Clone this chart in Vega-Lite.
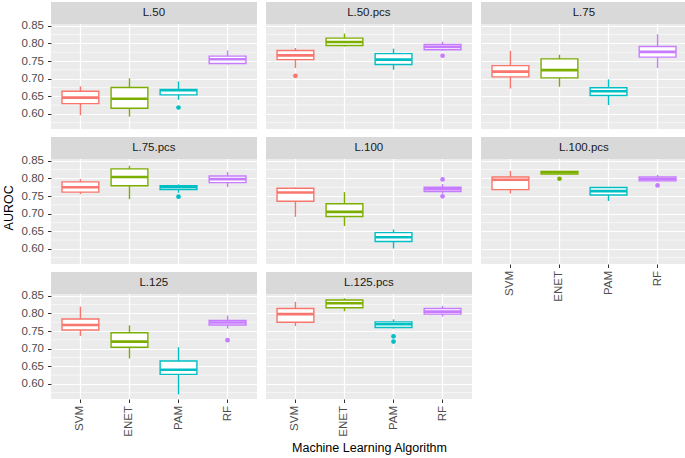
{
  "$schema": "https://vega.github.io/schema/vega-lite/v6.json",
  "background": "white",
  "padding": {"left": 2, "top": 2, "right": 1, "bottom": 2},
  "title": {"text": "AUROC", "orient": "left", "anchor": "middle", "fontSize": 12.5, "fontWeight": "normal", "color": "black", "offset": 6, "dx": 20},
  "data": {"values": [
    {"panel": "L.50", "algo": "SVM", "lower": 0.596, "q1": 0.629, "median": 0.646, "q3": 0.664, "upper": 0.678},
    {"panel": "L.50", "algo": "ENET", "lower": 0.592, "q1": 0.616, "median": 0.643, "q3": 0.675, "upper": 0.701},
    {"panel": "L.50", "algo": "PAM", "lower": 0.640, "q1": 0.654, "median": 0.667, "q3": 0.669, "upper": 0.692},
    {"panel": "L.50", "algo": "PAM", "outlier": 0.618},
    {"panel": "L.50", "algo": "RF", "lower": 0.740, "q1": 0.743, "median": 0.755, "q3": 0.764, "upper": 0.780},
    {"panel": "L.50.pcs", "algo": "SVM", "lower": 0.730, "q1": 0.754, "median": 0.766, "q3": 0.780, "upper": 0.787},
    {"panel": "L.50.pcs", "algo": "SVM", "outlier": 0.708},
    {"panel": "L.50.pcs", "algo": "ENET", "lower": 0.791, "q1": 0.794, "median": 0.804, "q3": 0.815, "upper": 0.828},
    {"panel": "L.50.pcs", "algo": "PAM", "lower": 0.725, "q1": 0.740, "median": 0.754, "q3": 0.771, "upper": 0.785},
    {"panel": "L.50.pcs", "algo": "RF", "lower": 0.779, "q1": 0.782, "median": 0.790, "q3": 0.797, "upper": 0.805},
    {"panel": "L.50.pcs", "algo": "RF", "outlier": 0.765},
    {"panel": "L.75", "algo": "SVM", "lower": 0.672, "q1": 0.705, "median": 0.720, "q3": 0.737, "upper": 0.779},
    {"panel": "L.75", "algo": "ENET", "lower": 0.677, "q1": 0.702, "median": 0.724, "q3": 0.756, "upper": 0.768},
    {"panel": "L.75", "algo": "PAM", "lower": 0.625, "q1": 0.652, "median": 0.664, "q3": 0.674, "upper": 0.698},
    {"panel": "L.75", "algo": "RF", "lower": 0.730, "q1": 0.761, "median": 0.776, "q3": 0.791, "upper": 0.826},
    {"panel": "L.75.pcs", "algo": "SVM", "lower": 0.755, "q1": 0.761, "median": 0.775, "q3": 0.790, "upper": 0.798},
    {"panel": "L.75.pcs", "algo": "ENET", "lower": 0.741, "q1": 0.779, "median": 0.804, "q3": 0.827, "upper": 0.836},
    {"panel": "L.75.pcs", "algo": "PAM", "lower": 0.759, "q1": 0.768, "median": 0.775, "q3": 0.779, "upper": 0.783},
    {"panel": "L.75.pcs", "algo": "PAM", "outlier": 0.748},
    {"panel": "L.75.pcs", "algo": "RF", "lower": 0.775, "q1": 0.788, "median": 0.798, "q3": 0.807, "upper": 0.818},
    {"panel": "L.100", "algo": "SVM", "lower": 0.691, "q1": 0.735, "median": 0.760, "q3": 0.772, "upper": 0.774},
    {"panel": "L.100", "algo": "ENET", "lower": 0.665, "q1": 0.692, "median": 0.705, "q3": 0.728, "upper": 0.761},
    {"panel": "L.100", "algo": "PAM", "lower": 0.601, "q1": 0.621, "median": 0.633, "q3": 0.646, "upper": 0.655},
    {"panel": "L.100", "algo": "RF", "lower": 0.757, "q1": 0.763, "median": 0.769, "q3": 0.775, "upper": 0.784},
    {"panel": "L.100", "algo": "RF", "outlier": 0.797},
    {"panel": "L.100", "algo": "RF", "outlier": 0.749},
    {"panel": "L.100.pcs", "algo": "SVM", "lower": 0.757, "q1": 0.768, "median": 0.796, "q3": 0.804, "upper": 0.821},
    {"panel": "L.100.pcs", "algo": "ENET", "lower": 0.812, "q1": 0.812, "median": 0.817, "q3": 0.820, "upper": 0.821},
    {"panel": "L.100.pcs", "algo": "ENET", "outlier": 0.799},
    {"panel": "L.100.pcs", "algo": "PAM", "lower": 0.736, "q1": 0.753, "median": 0.764, "q3": 0.774, "upper": 0.775},
    {"panel": "L.100.pcs", "algo": "RF", "lower": 0.791, "q1": 0.793, "median": 0.798, "q3": 0.804, "upper": 0.810},
    {"panel": "L.100.pcs", "algo": "RF", "outlier": 0.780},
    {"panel": "L.125", "algo": "SVM", "lower": 0.736, "q1": 0.753, "median": 0.767, "q3": 0.784, "upper": 0.819},
    {"panel": "L.125", "algo": "ENET", "lower": 0.672, "q1": 0.704, "median": 0.720, "q3": 0.745, "upper": 0.766},
    {"panel": "L.125", "algo": "PAM", "lower": 0.570, "q1": 0.627, "median": 0.640, "q3": 0.665, "upper": 0.704},
    {"panel": "L.125", "algo": "RF", "lower": 0.757, "q1": 0.767, "median": 0.774, "q3": 0.780, "upper": 0.794},
    {"panel": "L.125", "algo": "RF", "outlier": 0.724},
    {"panel": "L.125.pcs", "algo": "SVM", "lower": 0.764, "q1": 0.775, "median": 0.798, "q3": 0.814, "upper": 0.833},
    {"panel": "L.125.pcs", "algo": "ENET", "lower": 0.806, "q1": 0.816, "median": 0.829, "q3": 0.838, "upper": 0.843},
    {"panel": "L.125.pcs", "algo": "PAM", "lower": 0.757, "q1": 0.760, "median": 0.769, "q3": 0.776, "upper": 0.783},
    {"panel": "L.125.pcs", "algo": "PAM", "outlier": 0.735},
    {"panel": "L.125.pcs", "algo": "PAM", "outlier": 0.720},
    {"panel": "L.125.pcs", "algo": "RF", "lower": 0.791, "q1": 0.798, "median": 0.805, "q3": 0.814, "upper": 0.821}
  ]},
  "spacing": 7,
  "hconcat": [
    {"spacing": 8, "vconcat": [
      {"width": 206, "height": 127, "transform": [{"filter": "datum.panel == 'L.50'"}],
       "encoding": {"x": {"field": "algo", "type": "nominal", "scale": {"domain": ["SVM", "ENET", "PAM", "RF"], "paddingInner": 0.25, "paddingOuter": 0.225}, "axis": {"title": null, "labels": false, "ticks": false}}},
       "layer": [
        {"transform": [{"aggregate": [{"op": "count", "as": "n"}], "groupby": ["panel"]}], "layer": [
          {"mark": {"type": "rule", "color": "white", "strokeWidth": 0.6}, "encoding": {"x": null, "y": {"datum": 0.575, "type": "quantitative"}}},
          {"mark": {"type": "rule", "color": "white", "strokeWidth": 0.6}, "encoding": {"x": null, "y": {"datum": 0.625, "type": "quantitative"}}},
          {"mark": {"type": "rule", "color": "white", "strokeWidth": 0.6}, "encoding": {"x": null, "y": {"datum": 0.675, "type": "quantitative"}}},
          {"mark": {"type": "rule", "color": "white", "strokeWidth": 0.6}, "encoding": {"x": null, "y": {"datum": 0.725, "type": "quantitative"}}},
          {"mark": {"type": "rule", "color": "white", "strokeWidth": 0.6}, "encoding": {"x": null, "y": {"datum": 0.775, "type": "quantitative"}}},
          {"mark": {"type": "rule", "color": "white", "strokeWidth": 0.6}, "encoding": {"x": null, "y": {"datum": 0.825, "type": "quantitative"}}}
        ]},
        {"transform": [{"filter": "isValid(datum.median)"}], "mark": {"type": "rule", "strokeWidth": 1.4},
         "encoding": {"y": {"field": "lower", "type": "quantitative", "scale": {"domain": [0.557, 0.9175], "nice": false, "zero": false},
           "axis": {"title": null, "values": [0.6, 0.65, 0.7, 0.75, 0.8, 0.85], "format": ".2f"}},
           "y2": {"field": "upper"},
           "color": {"field": "algo", "type": "nominal", "scale": {"domain": ["SVM", "ENET", "PAM", "RF"], "range": ["#F8766D", "#7CAE00", "#00BFC4", "#C77CFF"]}, "legend": null}}},
        {"transform": [{"filter": "isValid(datum.median)"}], "mark": {"type": "bar", "fill": "white", "strokeWidth": 1.4},
         "encoding": {"y": {"field": "q1", "type": "quantitative"}, "y2": {"field": "q3"}, "stroke": {"field": "algo", "type": "nominal", "scale": {"domain": ["SVM", "ENET", "PAM", "RF"], "range": ["#F8766D", "#7CAE00", "#00BFC4", "#C77CFF"]}, "legend": null}}},
        {"transform": [{"filter": "isValid(datum.median)"}], "mark": {"type": "tick", "size": 36.8, "thickness": 2.6, "opacity": 1},
         "encoding": {"y": {"field": "median", "type": "quantitative"}, "color": {"field": "algo", "type": "nominal", "legend": null}}},
        {"transform": [{"filter": "isValid(datum.outlier)"}], "mark": {"type": "point", "filled": true, "size": 22, "opacity": 1},
         "encoding": {"y": {"field": "outlier", "type": "quantitative"}, "color": {"field": "algo", "type": "nominal", "legend": null}}},
        {"transform": [{"aggregate": [{"op": "count", "as": "n"}], "groupby": ["panel"]}], "mark": {"type": "rect", "color": "#D9D9D9"},
         "encoding": {"x": null, "y": {"datum": 0.855, "type": "quantitative"}, "y2": {"datum": 0.9175}}},
        {"transform": [{"aggregate": [{"op": "count", "as": "n"}], "groupby": ["panel"]}], "mark": {"type": "text", "fontSize": 11.5, "fontWeight": "normal", "color": "#1A1A1A", "dx": 6, "align": "center", "baseline": "middle"},
         "encoding": {"x": {"datum": "ENET", "bandPosition": 1}, "y": {"datum": 0.8862, "type": "quantitative"}, "text": {"field": "panel", "type": "nominal"}}}
       ]},
      {"width": 206, "height": 127, "transform": [{"filter": "datum.panel == 'L.75.pcs'"}],
       "encoding": {"x": {"field": "algo", "type": "nominal", "scale": {"domain": ["SVM", "ENET", "PAM", "RF"], "paddingInner": 0.25, "paddingOuter": 0.225}, "axis": {"title": null, "labels": false, "ticks": false}}},
       "layer": [
        {"transform": [{"aggregate": [{"op": "count", "as": "n"}], "groupby": ["panel"]}], "layer": [
          {"mark": {"type": "rule", "color": "white", "strokeWidth": 0.6}, "encoding": {"x": null, "y": {"datum": 0.575, "type": "quantitative"}}},
          {"mark": {"type": "rule", "color": "white", "strokeWidth": 0.6}, "encoding": {"x": null, "y": {"datum": 0.625, "type": "quantitative"}}},
          {"mark": {"type": "rule", "color": "white", "strokeWidth": 0.6}, "encoding": {"x": null, "y": {"datum": 0.675, "type": "quantitative"}}},
          {"mark": {"type": "rule", "color": "white", "strokeWidth": 0.6}, "encoding": {"x": null, "y": {"datum": 0.725, "type": "quantitative"}}},
          {"mark": {"type": "rule", "color": "white", "strokeWidth": 0.6}, "encoding": {"x": null, "y": {"datum": 0.775, "type": "quantitative"}}},
          {"mark": {"type": "rule", "color": "white", "strokeWidth": 0.6}, "encoding": {"x": null, "y": {"datum": 0.825, "type": "quantitative"}}}
        ]},
        {"transform": [{"filter": "isValid(datum.median)"}], "mark": {"type": "rule", "strokeWidth": 1.4},
         "encoding": {"y": {"field": "lower", "type": "quantitative", "scale": {"domain": [0.557, 0.9175], "nice": false, "zero": false},
           "axis": {"title": null, "values": [0.6, 0.65, 0.7, 0.75, 0.8, 0.85], "format": ".2f"}},
           "y2": {"field": "upper"},
           "color": {"field": "algo", "type": "nominal", "scale": {"domain": ["SVM", "ENET", "PAM", "RF"], "range": ["#F8766D", "#7CAE00", "#00BFC4", "#C77CFF"]}, "legend": null}}},
        {"transform": [{"filter": "isValid(datum.median)"}], "mark": {"type": "bar", "fill": "white", "strokeWidth": 1.4},
         "encoding": {"y": {"field": "q1", "type": "quantitative"}, "y2": {"field": "q3"}, "stroke": {"field": "algo", "type": "nominal", "scale": {"domain": ["SVM", "ENET", "PAM", "RF"], "range": ["#F8766D", "#7CAE00", "#00BFC4", "#C77CFF"]}, "legend": null}}},
        {"transform": [{"filter": "isValid(datum.median)"}], "mark": {"type": "tick", "size": 36.8, "thickness": 2.6, "opacity": 1},
         "encoding": {"y": {"field": "median", "type": "quantitative"}, "color": {"field": "algo", "type": "nominal", "legend": null}}},
        {"transform": [{"filter": "isValid(datum.outlier)"}], "mark": {"type": "point", "filled": true, "size": 22, "opacity": 1},
         "encoding": {"y": {"field": "outlier", "type": "quantitative"}, "color": {"field": "algo", "type": "nominal", "legend": null}}},
        {"transform": [{"aggregate": [{"op": "count", "as": "n"}], "groupby": ["panel"]}], "mark": {"type": "rect", "color": "#D9D9D9"},
         "encoding": {"x": null, "y": {"datum": 0.855, "type": "quantitative"}, "y2": {"datum": 0.9175}}},
        {"transform": [{"aggregate": [{"op": "count", "as": "n"}], "groupby": ["panel"]}], "mark": {"type": "text", "fontSize": 11.5, "fontWeight": "normal", "color": "#1A1A1A", "dx": 6, "align": "center", "baseline": "middle"},
         "encoding": {"x": {"datum": "ENET", "bandPosition": 1}, "y": {"datum": 0.8862, "type": "quantitative"}, "text": {"field": "panel", "type": "nominal"}}}
       ]},
      {"width": 206, "height": 127, "transform": [{"filter": "datum.panel == 'L.125'"}],
       "encoding": {"x": {"field": "algo", "type": "nominal", "scale": {"domain": ["SVM", "ENET", "PAM", "RF"], "paddingInner": 0.25, "paddingOuter": 0.225}, "axis": {"title": null}}},
       "layer": [
        {"transform": [{"aggregate": [{"op": "count", "as": "n"}], "groupby": ["panel"]}], "layer": [
          {"mark": {"type": "rule", "color": "white", "strokeWidth": 0.6}, "encoding": {"x": null, "y": {"datum": 0.575, "type": "quantitative"}}},
          {"mark": {"type": "rule", "color": "white", "strokeWidth": 0.6}, "encoding": {"x": null, "y": {"datum": 0.625, "type": "quantitative"}}},
          {"mark": {"type": "rule", "color": "white", "strokeWidth": 0.6}, "encoding": {"x": null, "y": {"datum": 0.675, "type": "quantitative"}}},
          {"mark": {"type": "rule", "color": "white", "strokeWidth": 0.6}, "encoding": {"x": null, "y": {"datum": 0.725, "type": "quantitative"}}},
          {"mark": {"type": "rule", "color": "white", "strokeWidth": 0.6}, "encoding": {"x": null, "y": {"datum": 0.775, "type": "quantitative"}}},
          {"mark": {"type": "rule", "color": "white", "strokeWidth": 0.6}, "encoding": {"x": null, "y": {"datum": 0.825, "type": "quantitative"}}}
        ]},
        {"transform": [{"filter": "isValid(datum.median)"}], "mark": {"type": "rule", "strokeWidth": 1.4},
         "encoding": {"y": {"field": "lower", "type": "quantitative", "scale": {"domain": [0.557, 0.9175], "nice": false, "zero": false},
           "axis": {"title": null, "values": [0.6, 0.65, 0.7, 0.75, 0.8, 0.85], "format": ".2f"}},
           "y2": {"field": "upper"},
           "color": {"field": "algo", "type": "nominal", "scale": {"domain": ["SVM", "ENET", "PAM", "RF"], "range": ["#F8766D", "#7CAE00", "#00BFC4", "#C77CFF"]}, "legend": null}}},
        {"transform": [{"filter": "isValid(datum.median)"}], "mark": {"type": "bar", "fill": "white", "strokeWidth": 1.4},
         "encoding": {"y": {"field": "q1", "type": "quantitative"}, "y2": {"field": "q3"}, "stroke": {"field": "algo", "type": "nominal", "scale": {"domain": ["SVM", "ENET", "PAM", "RF"], "range": ["#F8766D", "#7CAE00", "#00BFC4", "#C77CFF"]}, "legend": null}}},
        {"transform": [{"filter": "isValid(datum.median)"}], "mark": {"type": "tick", "size": 36.8, "thickness": 2.6, "opacity": 1},
         "encoding": {"y": {"field": "median", "type": "quantitative"}, "color": {"field": "algo", "type": "nominal", "legend": null}}},
        {"transform": [{"filter": "isValid(datum.outlier)"}], "mark": {"type": "point", "filled": true, "size": 22, "opacity": 1},
         "encoding": {"y": {"field": "outlier", "type": "quantitative"}, "color": {"field": "algo", "type": "nominal", "legend": null}}},
        {"transform": [{"aggregate": [{"op": "count", "as": "n"}], "groupby": ["panel"]}], "mark": {"type": "rect", "color": "#D9D9D9"},
         "encoding": {"x": null, "y": {"datum": 0.855, "type": "quantitative"}, "y2": {"datum": 0.9175}}},
        {"transform": [{"aggregate": [{"op": "count", "as": "n"}], "groupby": ["panel"]}], "mark": {"type": "text", "fontSize": 11.5, "fontWeight": "normal", "color": "#1A1A1A", "dx": 6, "align": "center", "baseline": "middle"},
         "encoding": {"x": {"datum": "ENET", "bandPosition": 1}, "y": {"datum": 0.8862, "type": "quantitative"}, "text": {"field": "panel", "type": "nominal"}}}
       ]}
    ]},
    {"spacing": 8, "vconcat": [
      {"width": 206, "height": 127, "transform": [{"filter": "datum.panel == 'L.50.pcs'"}],
       "encoding": {"x": {"field": "algo", "type": "nominal", "scale": {"domain": ["SVM", "ENET", "PAM", "RF"], "paddingInner": 0.25, "paddingOuter": 0.225}, "axis": {"title": null, "labels": false, "ticks": false}}},
       "layer": [
        {"transform": [{"aggregate": [{"op": "count", "as": "n"}], "groupby": ["panel"]}], "layer": [
          {"mark": {"type": "rule", "color": "white", "strokeWidth": 0.6}, "encoding": {"x": null, "y": {"datum": 0.575, "type": "quantitative"}}},
          {"mark": {"type": "rule", "color": "white", "strokeWidth": 0.6}, "encoding": {"x": null, "y": {"datum": 0.625, "type": "quantitative"}}},
          {"mark": {"type": "rule", "color": "white", "strokeWidth": 0.6}, "encoding": {"x": null, "y": {"datum": 0.675, "type": "quantitative"}}},
          {"mark": {"type": "rule", "color": "white", "strokeWidth": 0.6}, "encoding": {"x": null, "y": {"datum": 0.725, "type": "quantitative"}}},
          {"mark": {"type": "rule", "color": "white", "strokeWidth": 0.6}, "encoding": {"x": null, "y": {"datum": 0.775, "type": "quantitative"}}},
          {"mark": {"type": "rule", "color": "white", "strokeWidth": 0.6}, "encoding": {"x": null, "y": {"datum": 0.825, "type": "quantitative"}}}
        ]},
        {"transform": [{"filter": "isValid(datum.median)"}], "mark": {"type": "rule", "strokeWidth": 1.4},
         "encoding": {"y": {"field": "lower", "type": "quantitative", "scale": {"domain": [0.557, 0.9175], "nice": false, "zero": false},
           "axis": {"title": null, "values": [0.6, 0.65, 0.7, 0.75, 0.8, 0.85], "labels": false, "ticks": false}},
           "y2": {"field": "upper"},
           "color": {"field": "algo", "type": "nominal", "scale": {"domain": ["SVM", "ENET", "PAM", "RF"], "range": ["#F8766D", "#7CAE00", "#00BFC4", "#C77CFF"]}, "legend": null}}},
        {"transform": [{"filter": "isValid(datum.median)"}], "mark": {"type": "bar", "fill": "white", "strokeWidth": 1.4},
         "encoding": {"y": {"field": "q1", "type": "quantitative"}, "y2": {"field": "q3"}, "stroke": {"field": "algo", "type": "nominal", "scale": {"domain": ["SVM", "ENET", "PAM", "RF"], "range": ["#F8766D", "#7CAE00", "#00BFC4", "#C77CFF"]}, "legend": null}}},
        {"transform": [{"filter": "isValid(datum.median)"}], "mark": {"type": "tick", "size": 36.8, "thickness": 2.6, "opacity": 1},
         "encoding": {"y": {"field": "median", "type": "quantitative"}, "color": {"field": "algo", "type": "nominal", "legend": null}}},
        {"transform": [{"filter": "isValid(datum.outlier)"}], "mark": {"type": "point", "filled": true, "size": 22, "opacity": 1},
         "encoding": {"y": {"field": "outlier", "type": "quantitative"}, "color": {"field": "algo", "type": "nominal", "legend": null}}},
        {"transform": [{"aggregate": [{"op": "count", "as": "n"}], "groupby": ["panel"]}], "mark": {"type": "rect", "color": "#D9D9D9"},
         "encoding": {"x": null, "y": {"datum": 0.855, "type": "quantitative"}, "y2": {"datum": 0.9175}}},
        {"transform": [{"aggregate": [{"op": "count", "as": "n"}], "groupby": ["panel"]}], "mark": {"type": "text", "fontSize": 11.5, "fontWeight": "normal", "color": "#1A1A1A", "dx": 6, "align": "center", "baseline": "middle"},
         "encoding": {"x": {"datum": "ENET", "bandPosition": 1}, "y": {"datum": 0.8862, "type": "quantitative"}, "text": {"field": "panel", "type": "nominal"}}}
       ]},
      {"width": 206, "height": 127, "transform": [{"filter": "datum.panel == 'L.100'"}],
       "encoding": {"x": {"field": "algo", "type": "nominal", "scale": {"domain": ["SVM", "ENET", "PAM", "RF"], "paddingInner": 0.25, "paddingOuter": 0.225}, "axis": {"title": null, "labels": false, "ticks": false}}},
       "layer": [
        {"transform": [{"aggregate": [{"op": "count", "as": "n"}], "groupby": ["panel"]}], "layer": [
          {"mark": {"type": "rule", "color": "white", "strokeWidth": 0.6}, "encoding": {"x": null, "y": {"datum": 0.575, "type": "quantitative"}}},
          {"mark": {"type": "rule", "color": "white", "strokeWidth": 0.6}, "encoding": {"x": null, "y": {"datum": 0.625, "type": "quantitative"}}},
          {"mark": {"type": "rule", "color": "white", "strokeWidth": 0.6}, "encoding": {"x": null, "y": {"datum": 0.675, "type": "quantitative"}}},
          {"mark": {"type": "rule", "color": "white", "strokeWidth": 0.6}, "encoding": {"x": null, "y": {"datum": 0.725, "type": "quantitative"}}},
          {"mark": {"type": "rule", "color": "white", "strokeWidth": 0.6}, "encoding": {"x": null, "y": {"datum": 0.775, "type": "quantitative"}}},
          {"mark": {"type": "rule", "color": "white", "strokeWidth": 0.6}, "encoding": {"x": null, "y": {"datum": 0.825, "type": "quantitative"}}}
        ]},
        {"transform": [{"filter": "isValid(datum.median)"}], "mark": {"type": "rule", "strokeWidth": 1.4},
         "encoding": {"y": {"field": "lower", "type": "quantitative", "scale": {"domain": [0.557, 0.9175], "nice": false, "zero": false},
           "axis": {"title": null, "values": [0.6, 0.65, 0.7, 0.75, 0.8, 0.85], "labels": false, "ticks": false}},
           "y2": {"field": "upper"},
           "color": {"field": "algo", "type": "nominal", "scale": {"domain": ["SVM", "ENET", "PAM", "RF"], "range": ["#F8766D", "#7CAE00", "#00BFC4", "#C77CFF"]}, "legend": null}}},
        {"transform": [{"filter": "isValid(datum.median)"}], "mark": {"type": "bar", "fill": "white", "strokeWidth": 1.4},
         "encoding": {"y": {"field": "q1", "type": "quantitative"}, "y2": {"field": "q3"}, "stroke": {"field": "algo", "type": "nominal", "scale": {"domain": ["SVM", "ENET", "PAM", "RF"], "range": ["#F8766D", "#7CAE00", "#00BFC4", "#C77CFF"]}, "legend": null}}},
        {"transform": [{"filter": "isValid(datum.median)"}], "mark": {"type": "tick", "size": 36.8, "thickness": 2.6, "opacity": 1},
         "encoding": {"y": {"field": "median", "type": "quantitative"}, "color": {"field": "algo", "type": "nominal", "legend": null}}},
        {"transform": [{"filter": "isValid(datum.outlier)"}], "mark": {"type": "point", "filled": true, "size": 22, "opacity": 1},
         "encoding": {"y": {"field": "outlier", "type": "quantitative"}, "color": {"field": "algo", "type": "nominal", "legend": null}}},
        {"transform": [{"aggregate": [{"op": "count", "as": "n"}], "groupby": ["panel"]}], "mark": {"type": "rect", "color": "#D9D9D9"},
         "encoding": {"x": null, "y": {"datum": 0.855, "type": "quantitative"}, "y2": {"datum": 0.9175}}},
        {"transform": [{"aggregate": [{"op": "count", "as": "n"}], "groupby": ["panel"]}], "mark": {"type": "text", "fontSize": 11.5, "fontWeight": "normal", "color": "#1A1A1A", "dx": 6, "align": "center", "baseline": "middle"},
         "encoding": {"x": {"datum": "ENET", "bandPosition": 1}, "y": {"datum": 0.8862, "type": "quantitative"}, "text": {"field": "panel", "type": "nominal"}}}
       ]},
      {"width": 206, "height": 127, "transform": [{"filter": "datum.panel == 'L.125.pcs'"}],
       "encoding": {"x": {"field": "algo", "type": "nominal", "scale": {"domain": ["SVM", "ENET", "PAM", "RF"], "paddingInner": 0.25, "paddingOuter": 0.225}, "axis": {"title": "Machine Learning Algorithm", "titleFontSize": 12.5, "titleFontWeight": "normal", "titleColor": "black", "titlePadding": 5}}},
       "layer": [
        {"transform": [{"aggregate": [{"op": "count", "as": "n"}], "groupby": ["panel"]}], "layer": [
          {"mark": {"type": "rule", "color": "white", "strokeWidth": 0.6}, "encoding": {"x": null, "y": {"datum": 0.575, "type": "quantitative"}}},
          {"mark": {"type": "rule", "color": "white", "strokeWidth": 0.6}, "encoding": {"x": null, "y": {"datum": 0.625, "type": "quantitative"}}},
          {"mark": {"type": "rule", "color": "white", "strokeWidth": 0.6}, "encoding": {"x": null, "y": {"datum": 0.675, "type": "quantitative"}}},
          {"mark": {"type": "rule", "color": "white", "strokeWidth": 0.6}, "encoding": {"x": null, "y": {"datum": 0.725, "type": "quantitative"}}},
          {"mark": {"type": "rule", "color": "white", "strokeWidth": 0.6}, "encoding": {"x": null, "y": {"datum": 0.775, "type": "quantitative"}}},
          {"mark": {"type": "rule", "color": "white", "strokeWidth": 0.6}, "encoding": {"x": null, "y": {"datum": 0.825, "type": "quantitative"}}}
        ]},
        {"transform": [{"filter": "isValid(datum.median)"}], "mark": {"type": "rule", "strokeWidth": 1.4},
         "encoding": {"y": {"field": "lower", "type": "quantitative", "scale": {"domain": [0.557, 0.9175], "nice": false, "zero": false},
           "axis": {"title": null, "values": [0.6, 0.65, 0.7, 0.75, 0.8, 0.85], "labels": false, "ticks": false}},
           "y2": {"field": "upper"},
           "color": {"field": "algo", "type": "nominal", "scale": {"domain": ["SVM", "ENET", "PAM", "RF"], "range": ["#F8766D", "#7CAE00", "#00BFC4", "#C77CFF"]}, "legend": null}}},
        {"transform": [{"filter": "isValid(datum.median)"}], "mark": {"type": "bar", "fill": "white", "strokeWidth": 1.4},
         "encoding": {"y": {"field": "q1", "type": "quantitative"}, "y2": {"field": "q3"}, "stroke": {"field": "algo", "type": "nominal", "scale": {"domain": ["SVM", "ENET", "PAM", "RF"], "range": ["#F8766D", "#7CAE00", "#00BFC4", "#C77CFF"]}, "legend": null}}},
        {"transform": [{"filter": "isValid(datum.median)"}], "mark": {"type": "tick", "size": 36.8, "thickness": 2.6, "opacity": 1},
         "encoding": {"y": {"field": "median", "type": "quantitative"}, "color": {"field": "algo", "type": "nominal", "legend": null}}},
        {"transform": [{"filter": "isValid(datum.outlier)"}], "mark": {"type": "point", "filled": true, "size": 22, "opacity": 1},
         "encoding": {"y": {"field": "outlier", "type": "quantitative"}, "color": {"field": "algo", "type": "nominal", "legend": null}}},
        {"transform": [{"aggregate": [{"op": "count", "as": "n"}], "groupby": ["panel"]}], "mark": {"type": "rect", "color": "#D9D9D9"},
         "encoding": {"x": null, "y": {"datum": 0.855, "type": "quantitative"}, "y2": {"datum": 0.9175}}},
        {"transform": [{"aggregate": [{"op": "count", "as": "n"}], "groupby": ["panel"]}], "mark": {"type": "text", "fontSize": 11.5, "fontWeight": "normal", "color": "#1A1A1A", "dx": 6, "align": "center", "baseline": "middle"},
         "encoding": {"x": {"datum": "ENET", "bandPosition": 1}, "y": {"datum": 0.8862, "type": "quantitative"}, "text": {"field": "panel", "type": "nominal"}}}
       ]}
    ]},
    {"spacing": 8, "vconcat": [
      {"width": 206, "height": 127, "transform": [{"filter": "datum.panel == 'L.75'"}],
       "encoding": {"x": {"field": "algo", "type": "nominal", "scale": {"domain": ["SVM", "ENET", "PAM", "RF"], "paddingInner": 0.25, "paddingOuter": 0.225}, "axis": {"title": null, "labels": false, "ticks": false}}},
       "layer": [
        {"transform": [{"aggregate": [{"op": "count", "as": "n"}], "groupby": ["panel"]}], "layer": [
          {"mark": {"type": "rule", "color": "white", "strokeWidth": 0.6}, "encoding": {"x": null, "y": {"datum": 0.575, "type": "quantitative"}}},
          {"mark": {"type": "rule", "color": "white", "strokeWidth": 0.6}, "encoding": {"x": null, "y": {"datum": 0.625, "type": "quantitative"}}},
          {"mark": {"type": "rule", "color": "white", "strokeWidth": 0.6}, "encoding": {"x": null, "y": {"datum": 0.675, "type": "quantitative"}}},
          {"mark": {"type": "rule", "color": "white", "strokeWidth": 0.6}, "encoding": {"x": null, "y": {"datum": 0.725, "type": "quantitative"}}},
          {"mark": {"type": "rule", "color": "white", "strokeWidth": 0.6}, "encoding": {"x": null, "y": {"datum": 0.775, "type": "quantitative"}}},
          {"mark": {"type": "rule", "color": "white", "strokeWidth": 0.6}, "encoding": {"x": null, "y": {"datum": 0.825, "type": "quantitative"}}}
        ]},
        {"transform": [{"filter": "isValid(datum.median)"}], "mark": {"type": "rule", "strokeWidth": 1.4},
         "encoding": {"y": {"field": "lower", "type": "quantitative", "scale": {"domain": [0.557, 0.9175], "nice": false, "zero": false},
           "axis": {"title": null, "values": [0.6, 0.65, 0.7, 0.75, 0.8, 0.85], "labels": false, "ticks": false}},
           "y2": {"field": "upper"},
           "color": {"field": "algo", "type": "nominal", "scale": {"domain": ["SVM", "ENET", "PAM", "RF"], "range": ["#F8766D", "#7CAE00", "#00BFC4", "#C77CFF"]}, "legend": null}}},
        {"transform": [{"filter": "isValid(datum.median)"}], "mark": {"type": "bar", "fill": "white", "strokeWidth": 1.4},
         "encoding": {"y": {"field": "q1", "type": "quantitative"}, "y2": {"field": "q3"}, "stroke": {"field": "algo", "type": "nominal", "scale": {"domain": ["SVM", "ENET", "PAM", "RF"], "range": ["#F8766D", "#7CAE00", "#00BFC4", "#C77CFF"]}, "legend": null}}},
        {"transform": [{"filter": "isValid(datum.median)"}], "mark": {"type": "tick", "size": 36.8, "thickness": 2.6, "opacity": 1},
         "encoding": {"y": {"field": "median", "type": "quantitative"}, "color": {"field": "algo", "type": "nominal", "legend": null}}},
        {"transform": [{"filter": "isValid(datum.outlier)"}], "mark": {"type": "point", "filled": true, "size": 22, "opacity": 1},
         "encoding": {"y": {"field": "outlier", "type": "quantitative"}, "color": {"field": "algo", "type": "nominal", "legend": null}}},
        {"transform": [{"aggregate": [{"op": "count", "as": "n"}], "groupby": ["panel"]}], "mark": {"type": "rect", "color": "#D9D9D9"},
         "encoding": {"x": null, "y": {"datum": 0.855, "type": "quantitative"}, "y2": {"datum": 0.9175}}},
        {"transform": [{"aggregate": [{"op": "count", "as": "n"}], "groupby": ["panel"]}], "mark": {"type": "text", "fontSize": 11.5, "fontWeight": "normal", "color": "#1A1A1A", "dx": 6, "align": "center", "baseline": "middle"},
         "encoding": {"x": {"datum": "ENET", "bandPosition": 1}, "y": {"datum": 0.8862, "type": "quantitative"}, "text": {"field": "panel", "type": "nominal"}}}
       ]},
      {"width": 206, "height": 127, "transform": [{"filter": "datum.panel == 'L.100.pcs'"}],
       "encoding": {"x": {"field": "algo", "type": "nominal", "scale": {"domain": ["SVM", "ENET", "PAM", "RF"], "paddingInner": 0.25, "paddingOuter": 0.225}, "axis": {"title": null}}},
       "layer": [
        {"transform": [{"aggregate": [{"op": "count", "as": "n"}], "groupby": ["panel"]}], "layer": [
          {"mark": {"type": "rule", "color": "white", "strokeWidth": 0.6}, "encoding": {"x": null, "y": {"datum": 0.575, "type": "quantitative"}}},
          {"mark": {"type": "rule", "color": "white", "strokeWidth": 0.6}, "encoding": {"x": null, "y": {"datum": 0.625, "type": "quantitative"}}},
          {"mark": {"type": "rule", "color": "white", "strokeWidth": 0.6}, "encoding": {"x": null, "y": {"datum": 0.675, "type": "quantitative"}}},
          {"mark": {"type": "rule", "color": "white", "strokeWidth": 0.6}, "encoding": {"x": null, "y": {"datum": 0.725, "type": "quantitative"}}},
          {"mark": {"type": "rule", "color": "white", "strokeWidth": 0.6}, "encoding": {"x": null, "y": {"datum": 0.775, "type": "quantitative"}}},
          {"mark": {"type": "rule", "color": "white", "strokeWidth": 0.6}, "encoding": {"x": null, "y": {"datum": 0.825, "type": "quantitative"}}}
        ]},
        {"transform": [{"filter": "isValid(datum.median)"}], "mark": {"type": "rule", "strokeWidth": 1.4},
         "encoding": {"y": {"field": "lower", "type": "quantitative", "scale": {"domain": [0.557, 0.9175], "nice": false, "zero": false},
           "axis": {"title": null, "values": [0.6, 0.65, 0.7, 0.75, 0.8, 0.85], "labels": false, "ticks": false}},
           "y2": {"field": "upper"},
           "color": {"field": "algo", "type": "nominal", "scale": {"domain": ["SVM", "ENET", "PAM", "RF"], "range": ["#F8766D", "#7CAE00", "#00BFC4", "#C77CFF"]}, "legend": null}}},
        {"transform": [{"filter": "isValid(datum.median)"}], "mark": {"type": "bar", "fill": "white", "strokeWidth": 1.4},
         "encoding": {"y": {"field": "q1", "type": "quantitative"}, "y2": {"field": "q3"}, "stroke": {"field": "algo", "type": "nominal", "scale": {"domain": ["SVM", "ENET", "PAM", "RF"], "range": ["#F8766D", "#7CAE00", "#00BFC4", "#C77CFF"]}, "legend": null}}},
        {"transform": [{"filter": "isValid(datum.median)"}], "mark": {"type": "tick", "size": 36.8, "thickness": 2.6, "opacity": 1},
         "encoding": {"y": {"field": "median", "type": "quantitative"}, "color": {"field": "algo", "type": "nominal", "legend": null}}},
        {"transform": [{"filter": "isValid(datum.outlier)"}], "mark": {"type": "point", "filled": true, "size": 22, "opacity": 1},
         "encoding": {"y": {"field": "outlier", "type": "quantitative"}, "color": {"field": "algo", "type": "nominal", "legend": null}}},
        {"transform": [{"aggregate": [{"op": "count", "as": "n"}], "groupby": ["panel"]}], "mark": {"type": "rect", "color": "#D9D9D9"},
         "encoding": {"x": null, "y": {"datum": 0.855, "type": "quantitative"}, "y2": {"datum": 0.9175}}},
        {"transform": [{"aggregate": [{"op": "count", "as": "n"}], "groupby": ["panel"]}], "mark": {"type": "text", "fontSize": 11.5, "fontWeight": "normal", "color": "#1A1A1A", "dx": 6, "align": "center", "baseline": "middle"},
         "encoding": {"x": {"datum": "ENET", "bandPosition": 1}, "y": {"datum": 0.8862, "type": "quantitative"}, "text": {"field": "panel", "type": "nominal"}}}
       ]}
    ]}
  ],
  "config": {
    "font": "Liberation Sans",
    "view": {"fill": "#EBEBEB", "stroke": null},
    "axis": {"grid": true, "gridColor": "white", "gridWidth": 1.2, "domain": false, "tickColor": "#333333", "tickSize": 3.5, "labelColor": "#4D4D4D", "labelFontSize": 11.5},
    "axisX": {"labelAngle": 270, "labelPadding": 3},
    "axisY": {"labelPadding": 4, "tickCount": 20}
  }
}
